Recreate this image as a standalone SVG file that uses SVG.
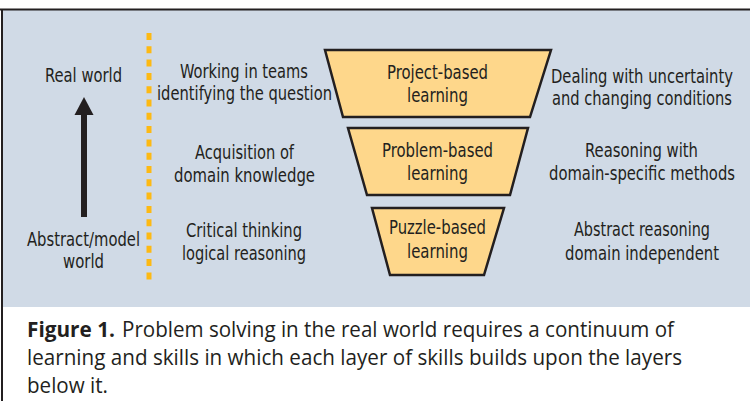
<svg xmlns="http://www.w3.org/2000/svg" width="750" height="401" viewBox="0 0 750 401">
  <defs>
    <style>
      .lbl { font-family: "Liberation Sans Narrow", "DejaVu Sans Condensed", "Roboto", sans-serif; font-size: 20px; fill: #231F20; text-anchor: middle; }
      .cap { font-family: "Open Sans", "Noto Sans", "DejaVu Sans", sans-serif; font-size: 21px; fill: #231F20; }
      .capb { font-weight: bold; }
      .trap { fill: #FED78B; stroke: #231F20; stroke-width: 2.5; stroke-linejoin: miter; }
    </style>
  </defs>
  <rect x="0" y="0" width="750" height="401" fill="#FFFFFF"/>
  <rect x="2" y="10" width="748" height="297" fill="#D0DAE6"/>
  <line x1="0" y1="9.5" x2="750" y2="9.5" stroke="#231F20" stroke-width="2"/>
  <line x1="2" y1="9" x2="2" y2="401" stroke="#231F20" stroke-width="2"/>

  <g id="connectors">
    <line x1="84" y1="217" x2="84" y2="113" stroke="#231F20" stroke-width="6"/>
    <polygon points="84,97 93.5,115 74.5,115" fill="#231F20"/>
    <line x1="149" y1="33" x2="149" y2="281" stroke="#FDB913" stroke-width="5" stroke-dasharray="7 6.3"/>
  </g>

  <g id="axis-labels">
    <text class="lbl" x="83.5" y="82" textLength="77" lengthAdjust="spacingAndGlyphs">Real world</text>
    <text class="lbl" x="83.5" y="246" textLength="113" lengthAdjust="spacingAndGlyphs">Abstract/model</text>
    <text class="lbl" x="83.5" y="268" textLength="41" lengthAdjust="spacingAndGlyphs">world</text>
  </g>

  <g id="left-skills">
    <text class="lbl" x="244" y="78" textLength="128" lengthAdjust="spacingAndGlyphs">Working in teams</text>
    <text class="lbl" x="244.5" y="100" textLength="175" lengthAdjust="spacingAndGlyphs">identifying the question</text>
    <text class="lbl" x="244.5" y="159" textLength="99" lengthAdjust="spacingAndGlyphs">Acquisition of</text>
    <text class="lbl" x="244.5" y="182" textLength="141" lengthAdjust="spacingAndGlyphs">domain knowledge</text>
    <text class="lbl" x="244" y="237" textLength="116" lengthAdjust="spacingAndGlyphs">Critical thinking</text>
    <text class="lbl" x="244" y="260" textLength="124" lengthAdjust="spacingAndGlyphs">logical reasoning</text>
  </g>

  <g id="node-project">
    <polygon class="trap" points="325,50 551,50 530,117 343,117"/>
    <text class="lbl" x="437.5" y="79" textLength="101" lengthAdjust="spacingAndGlyphs">Project-based</text>
    <text class="lbl" x="437.5" y="102" textLength="61" lengthAdjust="spacingAndGlyphs">learning</text>
  </g>

  <g id="node-problem">
    <polygon class="trap" points="348,128 528,128 510,195 367,195"/>
    <text class="lbl" x="437.5" y="157" textLength="111" lengthAdjust="spacingAndGlyphs">Problem-based</text>
    <text class="lbl" x="437.5" y="180" textLength="61" lengthAdjust="spacingAndGlyphs">learning</text>
  </g>

  <g id="node-puzzle">
    <polygon class="trap" points="372,208 504,208 484,275 390,275"/>
    <text class="lbl" x="437.5" y="234" textLength="97" lengthAdjust="spacingAndGlyphs">Puzzle-based</text>
    <text class="lbl" x="437.5" y="258" textLength="61" lengthAdjust="spacingAndGlyphs">learning</text>
  </g>

  <g id="right-skills">
    <text class="lbl" x="642" y="83" textLength="182" lengthAdjust="spacingAndGlyphs">Dealing with uncertainty</text>
    <text class="lbl" x="642" y="105" textLength="180" lengthAdjust="spacingAndGlyphs">and changing conditions</text>
    <text class="lbl" x="641.5" y="157" textLength="113" lengthAdjust="spacingAndGlyphs">Reasoning with</text>
    <text class="lbl" x="642" y="180" textLength="186" lengthAdjust="spacingAndGlyphs">domain-specific methods</text>
    <text class="lbl" x="642" y="236" textLength="136" lengthAdjust="spacingAndGlyphs">Abstract reasoning</text>
    <text class="lbl" x="642" y="260" textLength="154" lengthAdjust="spacingAndGlyphs">domain independent</text>
  </g>

  <g id="caption">
    <text class="cap capb" x="27" y="337" textLength="88" lengthAdjust="spacingAndGlyphs">Figure 1.</text>
    <text class="cap" x="122" y="337" textLength="552" lengthAdjust="spacingAndGlyphs">Problem solving in the real world requires a continuum of</text>
    <text class="cap" x="27" y="365" textLength="655" lengthAdjust="spacingAndGlyphs">learning and skills in which each layer of skills builds upon the layers</text>
    <text class="cap" x="27" y="393" textLength="81" lengthAdjust="spacingAndGlyphs">below it.</text>
  </g>
</svg>
